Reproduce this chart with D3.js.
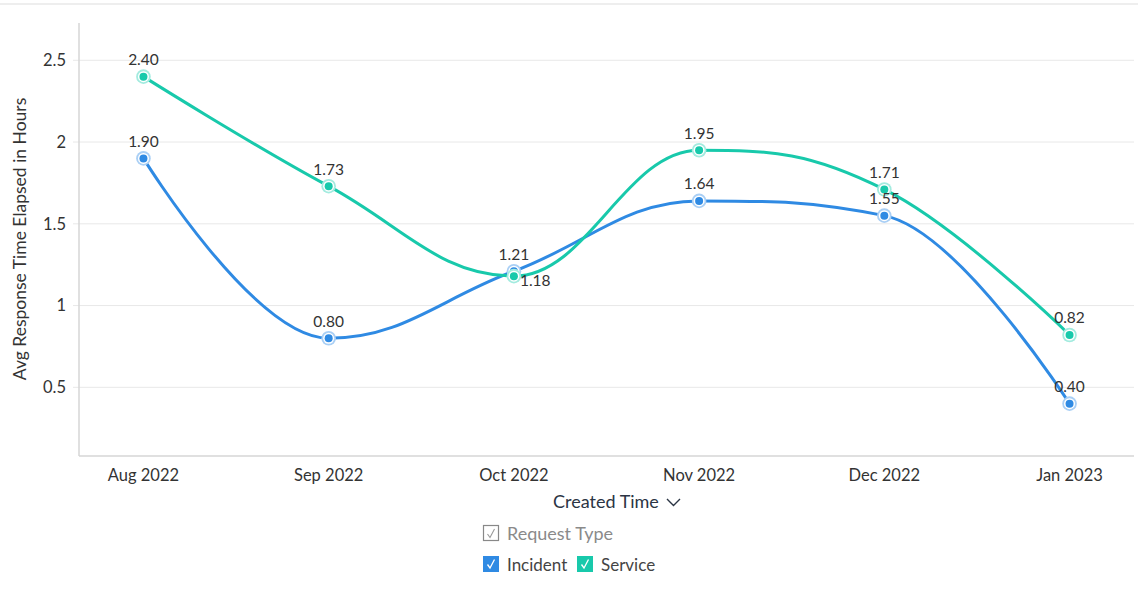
<!DOCTYPE html>
<html><head><meta charset="utf-8">
<script src="https://cdn.jsdelivr.net/npm/d3@7"></script>
<style>
html,body{margin:0;padding:0;background:#fff;}
svg{display:block;font-family:Lato,"Open Sans",sans-serif;}
</style></head>
<body><svg id="chart" width="1138" height="602"></svg>
<script>
const categories = ["Aug 2022","Sep 2022","Oct 2022","Nov 2022","Dec 2022","Jan 2023"];
const incidentValues = [1.90, 0.80, 1.21, 1.64, 1.55, 0.40];
const serviceValues = [2.40, 1.73, 1.18, 1.95, 1.71, 0.82];
const yTicks = [0.5, 1, 1.5, 2, 2.5];
const seriesNames = ["Incident", "Service"];
const seriesColors = ["#2f8ae3", "#18c9ab"];
const seriesHalo = ["#a9cff5", "#a3ebdf"];

const svg = d3.select("#chart");
const plotLeft = 79, plotRight = 1134, plotTop = 23, plotBottom = 456;

const x = d3.scalePoint().domain(categories).range([plotLeft, plotRight]).padding(0.348);
const y = d3.scaleLinear().domain([0.08, 2.728]).range([plotBottom, plotTop]);

// top border
svg.append("rect").attr("x",0).attr("y",3).attr("width",1138).attr("height",2).attr("fill","#eeeeee");

// gridlines
svg.append("g").selectAll("line").data(yTicks).join("line")
  .attr("x1", plotLeft-6).attr("x2", plotRight)
  .attr("y1", d=>y(d)).attr("y2", d=>y(d))
  .attr("stroke","#e8e8e8").attr("stroke-width",1);

// y axis tick labels
svg.append("g").selectAll("text").data(yTicks).join("text")
  .attr("x", 66).attr("y", d=>y(d)).attr("dy","0.35em")
  .attr("text-anchor","end").attr("font-size",16.5).attr("fill","#333")
  .text(d=>d3.format("")(d));

// axis lines
svg.append("line").attr("x1",plotLeft).attr("x2",plotLeft).attr("y1",plotTop).attr("y2",plotBottom)
  .attr("stroke","#d6d6d6").attr("stroke-width",1.5);
svg.append("line").attr("x1",plotLeft).attr("x2",plotRight).attr("y1",plotBottom).attr("y2",plotBottom)
  .attr("stroke","#d6d6d6").attr("stroke-width",1.5);

// x tick labels
svg.append("g").selectAll("text").data(categories).join("text")
  .attr("x", d=>x(d)).attr("y", 475).attr("dy","0.35em")
  .attr("text-anchor","middle").attr("font-size",16.5).attr("fill","#333")
  .text(d=>d);

// y axis title
svg.append("text").attr("transform","translate(20,239) rotate(-90)")
  .attr("text-anchor","middle").attr("dy","0.35em").attr("font-size",17.5).attr("fill","#333")
  .text("Avg Response Time Elapsed in Hours");

// x axis title
svg.append("text").attr("x", 606).attr("y", 502).attr("dy","0.35em")
  .attr("text-anchor","middle").attr("font-size",18).attr("fill","#2b3544")
  .text("Created Time");
svg.append("path").attr("d","M667,499 L673.5,505.5 L680,499").attr("fill","none")
  .attr("stroke","#2b3544").attr("stroke-width",1.4);

// spline (Highcharts-style)
function splinePath(pts){
  const smoothing = 1.5, denom = smoothing + 1;
  const p = d3.path();
  const cont = [];
  pts.forEach((pt,i)=>{
    let lc=null, rc=null;
    if(i>0 && i<pts.length-1){
      const [lx,ly]=pts[i-1], [nx,ny]=pts[i+1], [px,py]=pt;
      let lcx=(smoothing*px+lx)/denom, lcy=(smoothing*py+ly)/denom;
      let rcx=(smoothing*px+nx)/denom, rcy=(smoothing*py+ny)/denom;
      let corr=0;
      if(rcx!==lcx) corr=((rcy-lcy)*(rcx-px))/(rcx-lcx)+py-rcy;
      lcy+=corr; rcy+=corr;
      if(lcy>ly && lcy>py){ lcy=Math.max(ly,py); rcy=2*py-lcy; }
      else if(lcy<ly && lcy<py){ lcy=Math.min(ly,py); rcy=2*py-lcy; }
      if(rcy>ny && rcy>py){ rcy=Math.max(ny,py); lcy=2*py-rcy; }
      else if(rcy<ny && rcy<py){ rcy=Math.min(ny,py); lcy=2*py-rcy; }
      lc=[lcx,lcy]; rc=[rcx,rcy];
    }
    cont.push({lc,rc});
  });
  p.moveTo(pts[0][0], pts[0][1]);
  for(let i=1;i<pts.length;i++){
    const a = cont[i-1].rc || pts[i-1];
    const b = cont[i].lc || pts[i];
    p.bezierCurveTo(a[0],a[1],b[0],b[1],pts[i][0],pts[i][1]);
  }
  return p.toString();
}

const allSeries = [incidentValues, serviceValues];
allSeries.forEach((vals, si)=>{
  const pts = vals.map((v,i)=>[x(categories[i]), y(v)]);
  svg.append("path").attr("d", splinePath(pts)).attr("fill","none")
    .attr("stroke", seriesColors[si]).attr("stroke-width",3).attr("stroke-linecap","round");
});

allSeries.forEach((vals, si)=>{
  const g = svg.append("g");
  vals.forEach((v,i)=>{
    const cx = x(categories[i]), cy = y(v);
    g.append("circle").attr("cx",cx).attr("cy",cy).attr("r",7.3).attr("fill",seriesHalo[si]);
    g.append("circle").attr("cx",cx).attr("cy",cy).attr("r",5.5).attr("fill","#fff");
    g.append("circle").attr("cx",cx).attr("cy",cy).attr("r",4).attr("fill",seriesColors[si]);
  });
});

// data labels
allSeries.forEach((vals, si)=>{
  vals.forEach((v,i)=>{
    const other = allSeries[1-si][i];
    let lx = x(categories[i]), ly = y(v) - 17, anchor = "middle";
    if(Math.abs(other - v) < 0.1 && v < other){ lx = x(categories[i]) + 6; ly = y(v) + 4; anchor = "start"; }
    svg.append("text").attr("x",lx).attr("y",ly).attr("dy","0.35em")
      .attr("text-anchor",anchor).attr("font-size",15.5).attr("fill","#333")
      .text(d3.format(".2f")(v));
  });
});

// legend
const lg = svg.append("g");
lg.append("rect").attr("x",483.5).attr("y",525.5).attr("width",15).attr("height",15)
  .attr("fill","#fff").attr("stroke","#888").attr("stroke-width",1.2);
lg.append("path").attr("d","M487.5,534 L490,537.5 L494.5,529").attr("fill","none").attr("stroke","#999").attr("stroke-width",1.1);
lg.append("text").attr("x",507).attr("y",534).attr("dy","0.35em").attr("font-size",18).attr("fill","#8a8a8a").text("Request Type");

const legX = [483, 577];
seriesNames.forEach((n, si)=>{
  const bx = legX[si];
  lg.append("rect").attr("x",bx).attr("y",556).attr("width",16).attr("height",16).attr("fill",seriesColors[si]);
  lg.append("path").attr("d",`M${bx+4.5},${564.5} L${bx+7},${568} L${bx+11.5},${559.5}`).attr("fill","none").attr("stroke","#fff").attr("stroke-width",1.3);
  lg.append("text").attr("x",bx+24).attr("y",565).attr("dy","0.35em").attr("font-size",17).attr("fill","#444").text(n);
});
</script>
</body></html>
